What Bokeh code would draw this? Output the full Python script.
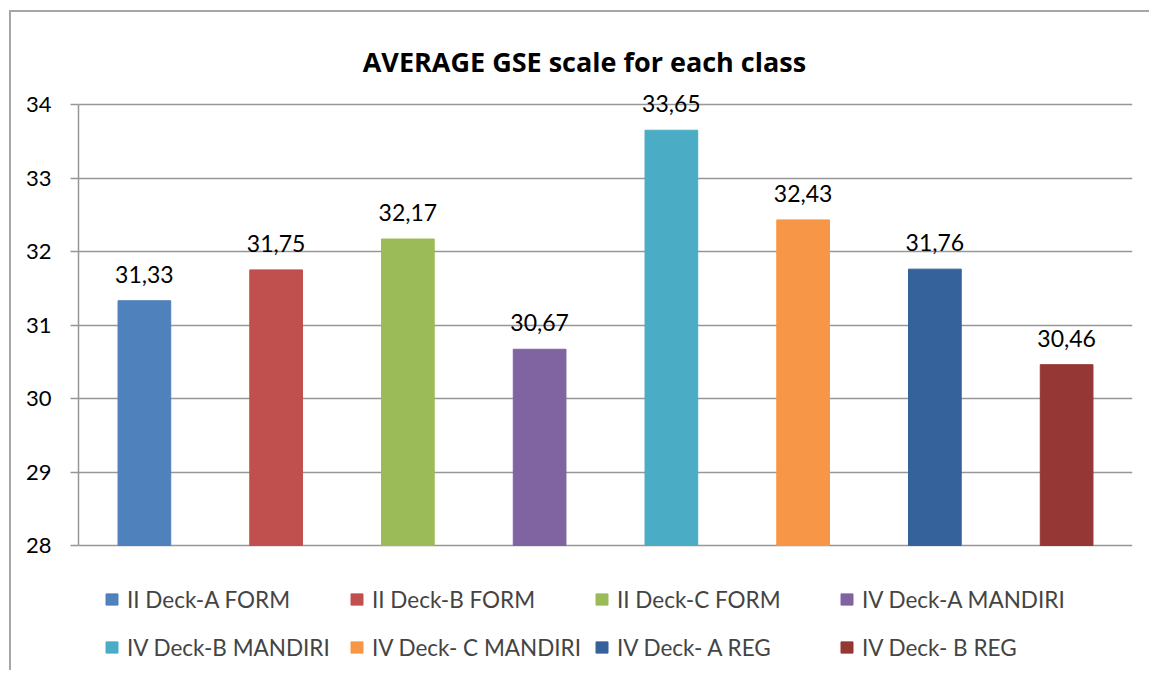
from bokeh.plotting import figure
from bokeh.models import (ColumnDataSource, FixedTicker, LabelSet, Label, Legend,
                          LegendItem, Range1d, FactorRange)
from bokeh.core.properties import value
from bokeh.embed import file_html
from bokeh.resources import INLINE

# ---- data ----
classes = ["II Deck-A FORM", "II Deck-B FORM", "II Deck-C FORM", "IV Deck-A MANDIRI",
           "IV Deck-B MANDIRI", "IV Deck- C MANDIRI", "IV Deck- A REG", "IV Deck- B REG"]
averages = [31.33, 31.75, 32.17, 30.67, 33.65, 32.43, 31.76, 30.46]
colors = ["#4F81BD", "#C0504D", "#9BBB59", "#8064A2",
          "#4BACC6", "#F79646", "#35629A", "#953735"]
y_ticks = [28, 29, 30, 31, 32, 33, 34]
title_text = "AVERAGE GSE scale for each class"

FONT = "Lato"
GRID = "#969696"

# layout geometry (page pixels) -> range padding so that title & legend sit inside frame
PX_PER_UNIT = 73.5
FRAME_TOP, AXIS_TOP, AXIS_BOTTOM, FRAME_BOTTOM = 30, 104, 545, 667
y_lo, y_hi = min(y_ticks), max(y_ticks)
y_start = y_lo - (FRAME_BOTTOM - AXIS_BOTTOM) / PX_PER_UNIT
y_end = y_hi + (AXIS_TOP - FRAME_TOP) / PX_PER_UNIT

labels = [f"{v:.2f}".replace(".", ",") for v in averages]
src = ColumnDataSource(dict(x=classes, top=averages, color=colors, lab=labels))

p = figure(width=1140, height=660, x_range=FactorRange(*classes),
           y_range=Range1d(y_start, y_end), output_backend="svg", toolbar_location=None,
           min_border_left=67, min_border_right=19, min_border_top=18,
           min_border_bottom=5)
p.styles = {"border-left": "2px solid #a6a6a6", "border-top": "2px solid #a6a6a6",
            "margin-left": "9px", "margin-top": "10px"}
p.outline_line_color = None
p.background_fill_color = "white"
p.border_fill_color = "white"

r = p.vbar(x="x", top="top", bottom=y_lo, width=0.40, color="color", source=src)

p.add_layout(LabelSet(x="x", y="top", text="lab", source=src, text_align="center",
                      text_baseline="alphabetic", y_offset=18,
                      text_font=value(FONT), text_font_size="23px",
                      text_color="black"))

# y axis
p.yaxis.ticker = FixedTicker(ticks=y_ticks)
p.yaxis.bounds = (y_lo, y_hi)
p.yaxis.axis_line_color = GRID
p.yaxis.axis_line_width = 1.5
p.yaxis.major_tick_line_color = GRID
p.yaxis.major_tick_line_width = 1.5
p.yaxis.major_tick_out = 8
p.yaxis.major_tick_in = 0
p.yaxis.minor_tick_line_color = None
p.yaxis.major_label_text_font = FONT
p.yaxis.major_label_text_font_size = "22px"
p.yaxis.major_label_text_color = "black"
p.yaxis.major_label_standoff = 19

p.xaxis.visible = False
p.xgrid.grid_line_color = None
p.ygrid.grid_line_color = GRID
p.ygrid.grid_line_width = 1.5

# title
p.add_layout(Label(x=3.84, y=y_hi + 43 / PX_PER_UNIT, text=title_text, text_align="center",
                   text_baseline="alphabetic", text_font="Open Sans",
                   text_font_style="bold", text_font_size="27px",
                   text_color="black"))

# legend
items = [LegendItem(label=c, renderers=[r], index=i) for i, c in enumerate(classes)]
leg = Legend(items=items, orientation="horizontal", ncols=4, location=(26, 2),
             label_text_font=FONT, label_text_font_size="22.5px",
             label_standoff=8, glyph_width=15, glyph_height=14,
             label_width=210, label_height=36, spacing=12, padding=0, margin=0,
             border_line_color=None, background_fill_alpha=0)
p.add_layout(leg)

open("out.html", "w").write(file_html(p, INLINE))
